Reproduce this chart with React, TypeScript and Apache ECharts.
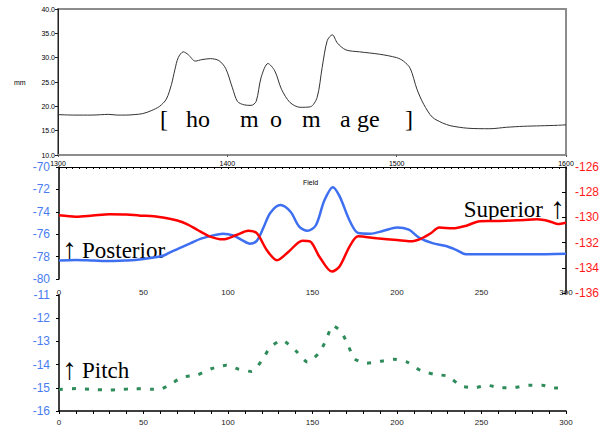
import React, { useEffect, useRef } from "react";
import * as echarts from "echarts";

// Top panel: field profile (mm) vs position 1300..1600
const topX = [1300, 1310, 1320, 1330, 1335, 1340, 1345, 1350, 1355, 1360, 1364, 1367, 1369, 1371, 1374, 1377, 1381, 1385, 1390, 1395, 1399, 1403, 1406, 1410, 1414, 1417, 1420, 1424, 1428, 1432, 1437, 1443, 1449, 1453, 1456, 1459, 1462, 1465, 1470, 1478, 1490, 1500, 1504, 1508, 1512, 1516, 1521, 1527, 1532, 1542, 1555, 1565, 1575, 1585, 1595, 1600];
const topY = [18.3, 18.2, 18.2, 18.35, 18.2, 18.2, 18.3, 18.5, 19.1, 20.0, 21.5, 24.5, 27.5, 30.0, 31.2, 30.6, 29.3, 29.6, 29.8, 29.4, 27.8, 23.8, 21.0, 20.3, 20.2, 21.0, 26.0, 28.8, 27.3, 23.5, 20.8, 19.8, 19.9, 21.8, 28.0, 33.5, 34.7, 33.0, 31.6, 31.2, 30.7, 30.0, 29.3, 27.8, 23.5, 20.4, 17.8, 16.6, 16.0, 15.5, 15.4, 15.7, 15.9, 16.0, 16.1, 16.2];

// Middle panel: Posterior (left axis, blue)
const postX = [0, 10, 20, 30, 40, 45, 55, 62, 66, 72, 78, 84, 90, 97, 103, 108, 113, 117, 121, 125, 131, 137, 142, 147, 152, 157, 162, 166, 172, 177, 184, 192, 200, 207, 213, 221, 229, 235, 241, 257, 280, 300];
const postY = [-78.35, -78.3, -78.35, -78.4, -78.35, -78.3, -78.1, -77.9, -77.6, -77.2, -76.8, -76.4, -76.15, -75.96, -76.1, -76.5, -76.85, -76.6, -75.4, -74.1, -73.4, -74.0, -75.3, -75.7, -75.2, -73.0, -71.8, -72.6, -74.8, -75.9, -75.96, -75.7, -75.4, -75.6, -76.3, -76.8, -77.05, -77.4, -77.8, -77.8, -77.8, -77.75];

// Middle panel: Superior (right axis, red)
const supX = [0, 10, 20, 30, 40, 48, 56, 64, 70, 76, 82, 89, 97, 105, 112, 117, 123, 129, 136, 144, 148.5, 154, 161.5, 166, 172, 177, 188, 200, 208, 214, 220, 225, 233, 241, 249, 259, 271, 283, 290, 295, 300];
const supY = [-129.83, -129.94, -129.85, -129.75, -129.77, -129.86, -129.9, -130.07, -130.25, -130.55, -131.0, -131.5, -131.74, -131.4, -131.06, -131.25, -132.6, -133.4, -132.7, -131.85, -131.9, -133.1, -134.3, -133.9, -132.3, -131.5, -131.66, -131.8, -131.9, -131.7, -131.26, -130.8, -130.87, -130.66, -130.3, -130.29, -130.23, -130.15, -130.3, -130.52, -130.42];

// Bottom panel: Pitch
const pitchX = [0, 10, 20, 30, 35, 45, 55, 60, 66, 73, 82, 90, 99, 106, 114, 120, 125, 132, 140, 147, 154, 158, 162, 167, 171, 175, 182, 190, 198, 206, 214, 222, 230, 238, 246, 253, 262, 270, 278, 286, 293, 300];
const pitchY = [-15.07, -15.03, -15.07, -15.1, -15.08, -15.04, -15.06, -15.06, -14.84, -14.55, -14.44, -14.18, -14.03, -14.19, -14.3, -13.83, -13.25, -12.95, -13.4, -13.89, -13.49, -12.94, -12.32, -12.58, -13.16, -13.76, -13.94, -13.86, -13.77, -13.89, -14.26, -14.42, -14.5, -14.92, -15.0, -14.89, -15.0, -14.98, -14.89, -14.89, -15.0, -15.03];

const BLUE_LABEL = "#4a7cf0";
const RED_LABEL = "#ff1a1a";
const SERIF = '"Liberation Serif", "Times New Roman", serif';
const SANS = 'Arial, "Liberation Sans", sans-serif';

const zip = (xs: number[], ys: number[]) => xs.map((x, i) => [x, ys[i]]);

export default function App() {
  const ref = useRef<HTMLDivElement>(null);
  useEffect(() => {
    if (!ref.current) return;
    const chart = echarts.init(ref.current, undefined, { renderer: "svg" });
    const homText = [
      { t: "[", x: 160 },
      { t: "ho", x: 186 },
      { t: "m", x: 240 },
      { t: "o", x: 270 },
      { t: "m", x: 302 },
      { t: "a", x: 340 },
      { t: "ge", x: 357 },
      { t: "]", x: 405 },
    ];
    const txt = (text: string, x: number, y: number, font: string, align = "left") => ({
      type: "text", x, y,
      style: { text, font, fill: "#000", align, verticalAlign: "middle" },
    });
    const option: any = {
      animation: false,
      textStyle: { fontFamily: SANS },
      grid: [
        { left: 58, top: 9, width: 508, height: 146, show: true, borderColor: "#8c8c8c", borderWidth: 2 },
        { left: 59, top: 167, width: 507, height: 112 },
        { left: 59, top: 167, width: 507, height: 126 },
        { left: 59, top: 295, width: 507, height: 116 },
      ],
      xAxis: [
        {
          gridIndex: 0, type: "value", min: 1300, max: 1600, interval: 100,
          axisLine: { lineStyle: { color: "#8c8c8c", width: 2 } },
          axisTick: { length: 2, lineStyle: { color: "#555" } },
          axisLabel: { fontSize: 7, color: "#000", margin: 5, formatter: (v: number) => String(v) },
          splitLine: { show: false },
        },
        {
          gridIndex: 1, type: "value", min: 0, max: 300, interval: 50,
          axisLine: { show: false }, axisTick: { show: false },
          axisLabel: { fontSize: 8, color: "#222", margin: 9 },
          splitLine: { show: false },
        },
        {
          gridIndex: 1, type: "value", position: "top", min: 1300, max: 1600, interval: 4,
          axisLine: { onZero: false, lineStyle: { color: "#000", width: 1 } },
          axisTick: { inside: true, length: 2, lineStyle: { color: "#000" } },
          axisLabel: { show: false },
          splitLine: { show: false },
        },
        {
          gridIndex: 2, type: "value", min: 0, max: 300, show: false,
        },
        {
          gridIndex: 3, type: "value", min: 0, max: 300, interval: 10,
          axisLine: { onZero: false, lineStyle: { color: "#000", width: 1.5 } },
          axisTick: { length: 3, lineStyle: { color: "#000" } },
          axisLabel: {
            fontSize: 8, color: "#222", margin: 7,
            formatter: (v: number) => (v % 50 === 0 ? String(v) : ""),
          },
          splitLine: { show: false },
        },
      ],
      yAxis: [
        {
          gridIndex: 0, type: "value", min: 10, max: 40, interval: 5,
          axisLine: { show: true, lineStyle: { color: "#222", width: 1 } },
          axisTick: { show: true, length: 3, lineStyle: { color: "#222" } },
          axisLabel: { fontSize: 7, color: "#000", margin: 3, formatter: (v: number) => v.toFixed(1) },
          splitLine: { show: false },
        },
        {
          gridIndex: 1, type: "value", min: -80, max: -70, interval: 2,
          axisLine: { show: true, onZero: false, lineStyle: { color: "#000", width: 1.5 } },
          axisTick: { show: true, length: 3, lineStyle: { color: "#000" } },
          axisLabel: { fontSize: 12, color: BLUE_LABEL, margin: 9 },
          splitLine: { show: false },
        },
        {
          gridIndex: 2, type: "value", position: "right", min: -136, max: -126, interval: 2,
          axisLine: { show: true, onZero: false, lineStyle: { color: "#000", width: 1.5 } },
          axisTick: { show: true, inside: true, length: 4, lineStyle: { color: "#000" } },
          axisLabel: { fontSize: 12, color: RED_LABEL, margin: 9 },
          splitLine: { show: false },
        },
        {
          gridIndex: 3, type: "value", min: -16, max: -11, interval: 1,
          axisLine: { show: true, onZero: false, lineStyle: { color: "#000", width: 1.5 } },
          axisTick: { show: true, length: 3, lineStyle: { color: "#000" } },
          axisLabel: { fontSize: 12, color: BLUE_LABEL, margin: 9 },
          splitLine: { show: false },
        },
      ],
      series: [
        {
          type: "line", xAxisIndex: 0, yAxisIndex: 0, data: zip(topX, topY),
          showSymbol: false, smooth: 0.3, lineStyle: { color: "#333", width: 1 },
        },
        {
          type: "line", xAxisIndex: 1, yAxisIndex: 1, data: zip(postX, postY),
          showSymbol: false, smooth: 0.3, lineStyle: { color: "#3d6ff0", width: 2.5 },
        },
        {
          type: "line", xAxisIndex: 3, yAxisIndex: 2, data: zip(supX, supY),
          showSymbol: false, smooth: 0.3, lineStyle: { color: "#ff0000", width: 2.5 },
        },
        {
          type: "line", xAxisIndex: 4, yAxisIndex: 3, data: zip(pitchX, pitchY),
          showSymbol: false, smooth: 0.2,
          lineStyle: { color: "#2e8b5a", width: 3, type: [4, 9] },
        },
      ],
      graphic: [
        txt("mm", 14, 82, `7px ${SANS}`),
        ...homText.map((h) => txt(h.t, h.x, 119, `24px ${SERIF}`)),
        txt("Field", 303, 182, `7px ${SANS}`),
        txt("↑", 62, 248, `30px ${SERIF}`),
        txt("Posterior", 82, 250, `23px ${SERIF}`),
        txt("Superior", 543, 209, `23px ${SERIF}`, "right"),
        txt("↑", 550, 207, `30px ${SERIF}`),
        txt("↑", 62, 368, `30px ${SERIF}`),
        txt("Pitch", 82, 370, `23px ${SERIF}`),
      ],
    };
    chart.setOption(option);
    return () => chart.dispose();
  }, []);
  return (
    <div
      ref={ref}
      style={{ position: "fixed", left: 0, top: 0, width: 614, height: 428, background: "#fff" }}
    />
  );
}
